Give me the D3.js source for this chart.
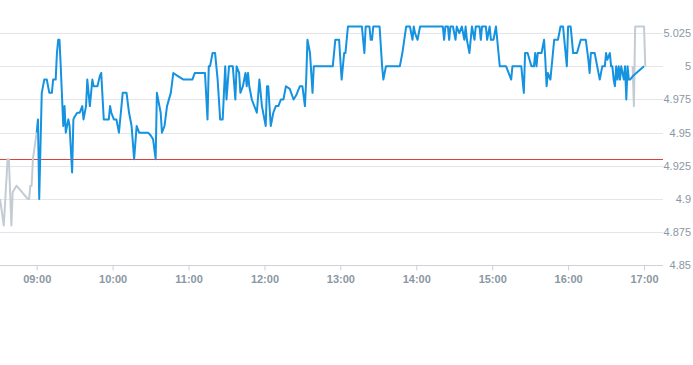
<!DOCTYPE html>
<html>
<head>
<meta charset="utf-8">
<script src="https://cdn.jsdelivr.net/npm/d3@7"></script>
<style>
  html, body { margin: 0; padding: 0; background: #fff; }
  svg text { font-family: "Liberation Sans", Arial, sans-serif; }
</style>
</head>
<body>
<svg id="chart" width="693" height="365"></svg>
<script>
// ---- data ----
const sessionTimes = ["09:00","09:01","09:02","09:04","09:06","09:08","09:10","09:12","09:13","09:15","09:16","09:17","09:18","09:19","09:21","09:22","09:23","09:25","09:26","09:28","09:29","09:30","09:32","09:34","09:36","09:37","09:39","09:40","09:42","09:44","09:45","09:48","09:50","09:51","09:53","09:57","09:58","09:59","10:01","10:03","10:05","10:08","10:11","10:13","10:15","10:17","10:19","10:21","10:28","10:30","10:32","10:34","10:35","10:38","10:39","10:41","10:43","10:46","10:48","10:51","10:56","11:03","11:05","11:13","11:15","11:16","11:17","11:19","11:21","11:23","11:25","11:27","11:29","11:30","11:32","11:35","11:37","11:38","11:40","11:41","11:43","11:45","11:46","11:47","11:48","11:50","11:52","11:54","11:56","11:58","12:01","12:02","12:03","12:05","12:07","12:09","12:11","12:13","12:15","12:17","12:20","12:23","12:25","12:28","12:30","12:32","12:33","12:34","12:36","12:38","12:39","12:54","12:56","12:59","13:01","13:03","13:04","13:06","13:17","13:19","13:20","13:23","13:24","13:25","13:26","13:31","13:33","13:34","13:36","13:47","13:49","13:52","13:55","13:57","13:58","13:59","14:01","14:03","14:21","14:22","14:23","14:25","14:26","14:27","14:29","14:31","14:32","14:34","14:36","14:38","14:39","14:40","14:41","14:42","14:44","14:46","14:47","14:50","14:51","14:52","14:55","14:56","14:58","14:59","15:01","15:03","15:06","15:11","15:13","15:15","15:16","15:23","15:25","15:26","15:28","15:31","15:33","15:34","15:35","15:36","15:39","15:41","15:42","15:43","15:44","15:46","15:48","15:49","15:52","15:54","15:56","15:57","15:59","16:00","16:02","16:04","16:07","16:10","16:14","16:16","16:17","16:18","16:21","16:23","16:25","16:27","16:29","16:30","16:31","16:33","16:34","16:35","16:36","16:37","16:38","16:39","16:40","16:41","16:42","16:44","16:45","16:46","16:47","16:48","16:49","16:51","17:00"];
const sessionPrices = [4.95,4.96,4.90,4.98,4.99,4.99,4.98,4.98,4.99,4.99,5.01,5.02,5.02,5.00,4.955,4.97,4.95,4.96,4.955,4.92,4.96,4.962,4.965,4.965,4.97,4.96,4.97,4.99,4.97,4.99,4.985,4.985,4.993,4.995,4.96,4.96,4.97,4.965,4.96,4.96,4.95,4.98,4.98,4.965,4.955,4.93,4.955,4.95,4.95,4.948,4.945,4.93,4.98,4.965,4.95,4.955,4.97,4.98,4.995,4.993,4.99,4.99,4.995,4.995,4.96,5.00,5.00,5.01,5.01,4.99,4.96,4.96,5.00,4.975,5.00,5.00,4.975,5.00,4.995,4.98,4.985,4.995,4.985,4.995,4.985,4.975,4.97,4.965,4.99,4.97,4.955,4.985,4.985,4.955,4.965,4.97,4.97,4.975,4.975,4.985,4.983,4.975,4.978,4.985,4.985,4.97,4.99,5.02,5.01,4.98,5.00,5.00,5.02,5.02,4.99,5.01,5.01,5.03,5.03,5.01,5.03,5.03,5.02,5.02,5.03,5.03,5.00,4.99,5.00,5.00,5.01,5.03,5.03,5.02,5.03,5.025,5.02,5.03,5.03,5.02,5.03,5.03,5.02,5.03,5.03,5.02,5.03,5.025,5.03,5.02,5.03,5.02,5.015,5.01,5.03,5.02,5.03,5.03,5.02,5.03,5.03,5.02,5.03,5.02,5.02,5.03,5.00,5.00,4.995,4.99,5.00,5.00,4.98,5.01,5.01,5.00,5.00,5.01,5.00,5.01,5.01,5.02,5.005,4.985,4.995,4.99,5.01,5.02,5.02,5.03,5.03,5.02,5.00,5.03,5.03,5.01,5.01,5.02,5.02,5.005,4.995,5.01,5.01,5.00,4.99,5.00,5.00,5.01,5.005,5.01,5.00,5.00,4.99,4.985,5.00,4.99,5.00,4.99,5.00,4.99,5.00,4.975,5.00,4.99,4.99,4.9925,5.00];

const preTimes = ["08:31","08:34","08:37","08:38","08:40","08:41","08:44","08:53","08:54","08:55","08:56","08:57","09:00"];
const prePrices = [4.90,4.88,4.93,4.93,4.88,4.905,4.91,4.90,4.90,4.91,4.91,4.93,4.95];

const postTimes = ["16:51","16:52","16:53","17:00","17:01"];
const postPrices = [5.00,4.97,5.03,5.03,5.00];

const previousClose = 4.93;
const xTickLabels = ["09:00","10:00","11:00","12:00","13:00","14:00","15:00","16:00","17:00"];
const yTickValues = [4.85,4.875,4.9,4.925,4.95,4.975,5,5.025];
const xDomain = ["08:31","17:15"];
const yDomain = [4.85, 5.05];

// ---- chart ----
const parse = d3.timeParse("%H:%M");
const fmt = d3.timeFormat("%H:%M");
const zip = (ts, ps) => ts.map((t, i) => ({ t: parse(t), v: ps[i] }));
const session = zip(sessionTimes, sessionPrices);
const pre = zip(preTimes, prePrices);
const post = zip(postTimes, postPrices);

const plotW = 663, plotBottom = 265.3;
const x = d3.scaleTime().domain(xDomain.map(parse)).range([0, plotW]);
const y = d3.scaleLinear().domain(yDomain).range([plotBottom, 0]);

const svg = d3.select("#chart");

// grid
svg.append("g").selectAll("line")
  .data(yTickValues.filter(v => v !== yDomain[0]))
  .join("line")
  .attr("x1", 0).attr("x2", plotW)
  .attr("y1", d => Math.round(y(d)) + 0.5).attr("y2", d => Math.round(y(d)) + 0.5)
  .attr("stroke", "#e3e5ea").attr("stroke-width", 1);

// y axis labels (right)
svg.append("g").selectAll("text")
  .data(yTickValues)
  .join("text")
  .attr("x", 691)
  .attr("y", d => y(d))
  .attr("dy", "0.35em")
  .attr("text-anchor", "end")
  .attr("font-size", 11)
  .attr("fill", "#8a97a3")
  .text(d => String(d));

// x axis
const xAxis = d3.axisBottom(x)
  .tickValues(xTickLabels.map(parse))
  .tickFormat(fmt)
  .tickSize(5)
  .tickPadding(5);
const gx = svg.append("g")
  .attr("transform", `translate(0,${Math.round(plotBottom) + 0.5})`)
  .call(xAxis);
gx.select(".domain").attr("stroke", "#ccd0d8").attr("d", `M0,0H${plotW}`);
gx.selectAll(".tick line").attr("stroke", "#ccd0d8");
gx.selectAll(".tick text")
  .attr("fill", "#8a97a3")
  .attr("font-size", 11)
  .attr("font-weight", "bold")
  .attr("font-family", "'Liberation Sans', Arial, sans-serif");

// previous close
svg.append("line")
  .attr("x1", 0).attr("x2", plotW)
  .attr("y1", Math.round(y(previousClose)) + 0.5).attr("y2", Math.round(y(previousClose)) + 0.5)
  .attr("stroke", "#e0403a").attr("stroke-width", 1);

const line = d3.line().x(d => x(d.t)).y(d => y(d.v));

[pre, post].forEach(data => {
  svg.append("path").datum(data)
    .attr("d", line)
    .attr("fill", "none")
    .attr("stroke", "#c3ccd4")
    .attr("stroke-width", 2)
    .attr("stroke-linejoin", "round");
});

svg.append("path").datum(session)
  .attr("d", line)
  .attr("fill", "none")
  .attr("stroke", "#1592e0")
  .attr("stroke-width", 2)
  .attr("stroke-linejoin", "round");
</script>
</body>
</html>
